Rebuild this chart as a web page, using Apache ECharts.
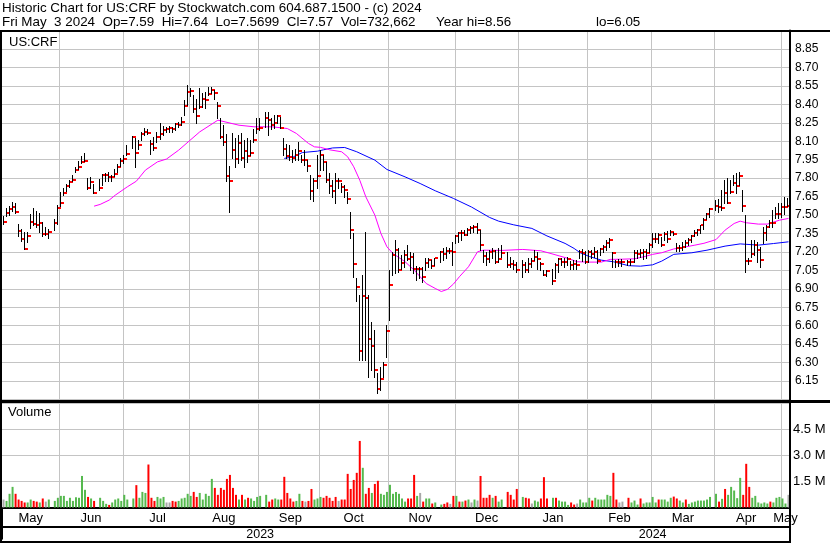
<!DOCTYPE html>
<html><head><meta charset="utf-8">
<script src="https://cdn.jsdelivr.net/npm/echarts@6/dist/echarts.min.js"></script>
<style>html,body{margin:0;padding:0;background:#fff}#c{width:830px;height:543px}</style>
</head><body><div id="c"></div>
<script>
// ---------------- DATA ----------------
const TITLE_LINE1 = 'Historic Chart for US:CRF by Stockwatch.com 604.687.1500 - (c) 2024';
const TITLE_LINE2 = 'Fri May  3 2024  Op=7.59  Hi=7.64  Lo=7.5699  Cl=7.57  Vol=732,662';
const TITLE_YEAR_HI = 'Year hi=8.56';
const TITLE_YEAR_LO = 'lo=6.05';
const SYMBOL = 'US:CRF';
const FIRST_DAY = '2023-05-05';
const LAST_DAY = '2024-05-03';
const HOLIDAYS = ['2023-05-29','2023-06-19','2023-07-04','2023-09-04','2023-11-23','2023-12-25',
                  '2024-01-01','2024-01-15','2024-02-19','2024-03-29'];
const MONTH_NAMES = ['Jan','Feb','Mar','Apr','May','Jun','Jul','Aug','Sep','Oct','Nov','Dec'];

// daily bars, one per trading day: [high, low, close]
const PRICE_BARS = [
 // May 2023
 [7.49,7.43,7.445],[7.56,7.49,7.52],[7.575,7.50,7.55],[7.605,7.53,7.567],[7.60,7.52,7.526],[7.43,7.33,7.37],
 [7.385,7.285,7.306],[7.36,7.22,7.225],[7.36,7.28,7.328],[7.505,7.395,7.445],[7.555,7.415,7.428],[7.53,7.405,7.415],
 [7.52,7.365,7.437],[7.445,7.33,7.342],[7.405,7.335,7.345],[7.385,7.315,7.358],[7.47,7.38,7.434],[7.58,7.43,7.558],
 // Jun
 [7.688,7.575,7.599],[7.716,7.661,7.678],[7.754,7.699,7.735],[7.781,7.727,7.77],[7.824,7.775,7.786],[7.892,7.846,7.867],
 [7.938,7.878,7.892],[7.978,7.919,7.932],[8.003,7.938,7.941],[7.802,7.71,7.721],[7.81,7.716,7.77],[7.756,7.68,7.68],
 [7.792,7.705,7.718],[7.832,7.743,7.824],[7.838,7.775,7.824],[7.851,7.775,7.813],[7.824,7.775,7.808],[7.873,7.819,7.835],
 [7.916,7.851,7.894],[7.96,7.9,7.941],[7.987,7.919,7.957],
 // Jul
 [8.068,7.987,7.997],[8.141,8.046,8.133],[8.122,7.892,8.003],[8.109,8.035,8.068],[8.171,8.109,8.16],[8.209,8.149,8.176],
 [8.203,8.155,8.168],[8.109,7.992,8.079],[8.136,8.027,8.046],[8.176,8.095,8.136],[8.252,8.117,8.155],[8.222,8.149,8.195],
 [8.217,8.176,8.2],[8.225,8.171,8.204],[8.217,8.171,8.2],[8.252,8.19,8.239],[8.258,8.217,8.231],[8.298,8.231,8.26],
 [8.434,8.312,8.39],[8.556,8.393,8.5],
 // Aug
 [8.534,8.469,8.507],[8.474,8.339,8.358],[8.447,8.244,8.306],[8.529,8.366,8.38],[8.488,8.38,8.442],[8.501,8.366,8.434],
 [8.542,8.474,8.48],[8.542,8.488,8.518],[8.515,8.447,8.488],[8.42,8.285,8.388],[8.285,8.122,8.136],[8.231,8.068,8.09],
 [8.16,7.78,7.82],[7.90,7.526,7.775],[8.163,7.96,8.027],[8.122,7.892,7.954],[8.149,7.919,8.084],[8.163,7.946,7.965],
 [8.109,7.892,8.022],[8.122,7.932,7.981],[8.109,7.987,8.005],[8.203,8.095,8.109],[8.285,8.163,8.203],
 // Sep
 [8.29,8.19,8.209],[8.339,8.217,8.29],[8.339,8.149,8.271],[8.285,8.203,8.231],[8.312,8.209,8.249],[8.317,8.244,8.304],
 [8.298,8.209,8.209],[8.122,7.987,8.035],[8.081,7.96,7.981],[8.068,7.946,7.97],[8.027,7.932,7.96],[8.04,7.946,7.99],
 [8.095,7.946,8.019],[7.987,7.932,7.946],[8.027,7.905,7.946],[7.95,7.86,7.90],[7.824,7.634,7.694],[7.797,7.613,7.775],
 [7.987,7.716,7.819],[8.027,7.865,7.987],
 // Oct
 [7.987,7.865,7.93],[7.933,7.77,7.784],[7.838,7.675,7.735],[7.784,7.648,7.697],[7.838,7.6,7.778],[7.797,7.716,7.778],
 [7.762,7.689,7.729],[7.743,7.648,7.702],[7.689,7.6,7.629],[7.526,7.309,7.382],[7.35,6.997,7.1],[6.984,6.802,6.916],
 [6.848,6.32,6.396],[7.011,6.32,6.84],[7.363,6.32,6.827],[6.848,6.184,6.491],[6.632,6.239,6.434],[6.564,6.184,6.239],
 [6.212,6.049,6.087],[6.266,6.076,6.163],[6.307,6.184,6.28],[6.605,6.347,6.556],
 // Nov
 [7.052,6.645,6.93],[7.201,7.011,7.174],[7.296,7.025,7.214],[7.228,7.038,7.052],[7.174,7.065,7.106],[7.214,7.079,7.171],
 [7.255,7.133,7.139],[7.201,7.052,7.155],[7.187,7.025,7.06],[7.084,6.97,7.065],[7.079,6.984,7.065],[7.079,6.957,6.998],
 [7.147,7.052,7.106],[7.147,7.079,7.133],[7.133,7.073,7.084],[7.147,7.092,7.147],[7.209,7.12,7.2],[7.228,7.133,7.182],
 [7.242,7.147,7.209],[7.235,7.19,7.209],[7.282,7.092,7.2],
 // Dec
 [7.336,7.269,7.328],[7.364,7.282,7.35],[7.377,7.296,7.355],[7.382,7.336,7.336],[7.391,7.336,7.382],[7.41,7.35,7.396],
 [7.418,7.363,7.399],[7.437,7.35,7.382],[7.382,7.214,7.26],[7.214,7.12,7.166],[7.201,7.093,7.144],[7.214,7.12,7.201],
 [7.228,7.147,7.209],[7.214,7.106,7.117],[7.228,7.12,7.144],[7.255,7.155,7.193],[7.201,7.079,7.09],[7.16,7.079,7.098],
 [7.133,7.065,7.09],[7.12,7.038,7.052],
 // Jan 2024
 [7.133,6.998,7.093],[7.12,7.038,7.052],[7.147,7.038,7.101],[7.147,7.079,7.125],[7.214,7.133,7.158],[7.201,7.065,7.139],
 [7.12,7.052,7.098],[7.052,7.011,7.014],[7.052,7.003,7.044],[7.057,6.938,6.96],[7.106,6.984,7.093],[7.147,7.038,7.139],
 [7.147,7.093,7.117],[7.147,7.079,7.117],[7.16,7.09,7.139],[7.13,7.06,7.093],[7.133,7.065,7.098],[7.133,7.065,7.093],
 [7.214,7.147,7.201],[7.22,7.13,7.193],[7.21,7.11,7.12],
 // Feb
 [7.214,7.12,7.201],[7.214,7.147,7.182],[7.242,7.16,7.201],[7.214,7.106,7.125],[7.228,7.174,7.22],[7.255,7.201,7.236],
 [7.296,7.214,7.274],[7.309,7.242,7.296],[7.201,7.079,7.187],[7.133,7.079,7.117],[7.14,7.085,7.117],[7.14,7.085,7.117],
 [7.135,7.09,7.12],[7.14,7.09,7.117],[7.214,7.12,7.193],[7.214,7.147,7.182],[7.22,7.16,7.193],[7.225,7.14,7.201],
 [7.22,7.15,7.193],[7.269,7.201,7.255],
 // Mar
 [7.35,7.241,7.301],[7.355,7.282,7.301],[7.355,7.269,7.334],[7.323,7.247,7.255],[7.363,7.296,7.344],[7.369,7.282,7.301],
 [7.377,7.336,7.358],[7.363,7.336,7.344],[7.269,7.209,7.228],[7.255,7.209,7.228],[7.282,7.214,7.236],[7.296,7.236,7.274],
 [7.315,7.255,7.296],[7.336,7.282,7.328],[7.377,7.328,7.355],[7.39,7.336,7.382],[7.418,7.355,7.415],[7.472,7.39,7.458],
 [7.518,7.464,7.512],[7.553,7.485,7.545],
 // Apr
 [7.626,7.539,7.572],[7.634,7.526,7.567],[7.702,7.539,7.553],[7.783,7.594,7.68],[7.797,7.594,7.594],[7.783,7.675,7.683],
 [7.824,7.743,7.762],[7.838,7.675,7.735],[7.851,7.743,7.819],[7.70,7.53,7.575],[7.50,7.04,7.125],[7.147,7.10,7.125],
 [7.296,7.16,7.18],[7.296,7.174,7.255],[7.282,7.12,7.214],[7.241,7.079,7.133],[7.404,7.269,7.355],[7.418,7.296,7.404],
 [7.458,7.404,7.431],[7.539,7.404,7.431],[7.566,7.472,7.512],[7.594,7.472,7.512],
 // May 2024
 [7.594,7.485,7.567],[7.648,7.512,7.567],[7.64,7.5699,7.57]
];

// daily volume in millions of shares, one per trading day
const VOLUME_M = [
 0.46,0.38,0.79,1.19,0.79,0.46,0.38,0.29,0.29,0.46,0.38,0.34,0.29,0.52,0.34,0.46,0.38,0.56,
 0.67,0.67,0.38,0.56,0.38,0.59,0.56,1.82,1.02,0.61,0.52,0.38,0.56,0.38,0.21,0.15,0.29,0.46,0.52,0.38,0.73,
 0.46,0.52,1.29,0.56,0.90,0.84,2.48,0.56,0.38,0.61,0.52,0.61,0.29,0.29,0.38,0.34,0.38,0.52,0.56,0.79,
 0.67,0.90,0.61,0.84,0.46,0.79,0.67,1.65,1.13,0.73,1.13,1.02,1.65,1.88,1.13,0.73,0.46,0.73,0.46,0.56,0.52,0.38,0.61,
 0.67,0.73,0.34,0.46,0.52,0.46,0.46,1.77,0.84,0.52,0.34,0.38,0.79,0.38,0.34,0.38,1.07,0.46,0.52,0.61,
 0.56,0.67,0.56,0.38,0.61,0.38,0.46,0.46,1.94,1.07,1.59,2.00,3.84,2.29,0.79,1.13,0.84,1.36,1.54,0.79,0.73,0.90,
 1.31,0.79,0.90,0.79,0.52,0.34,0.52,0.52,1.88,0.67,0.84,0.34,0.52,0.52,0.23,0.29,0.17,0.21,0.29,0.21,0.67,
 0.67,0.34,0.34,0.40,0.46,0.29,0.46,0.40,1.82,0.56,0.56,0.73,0.56,0.67,0.34,0.46,0.90,0.73,0.46,1.07,
 0.61,0.56,0.52,0.23,0.40,0.34,0.52,1.75,0.52,0.56,0.56,0.40,0.34,0.34,0.15,0.29,0.17,0.23,0.46,0.29,0.29,
 0.56,0.40,0.56,0.46,0.46,0.46,0.73,0.67,2.00,0.46,0.29,0.34,0.56,0.29,0.40,0.17,0.52,0.23,0.29,0.29,
 0.61,0.29,0.46,0.46,0.46,0.34,0.56,0.63,0.52,0.40,0.29,0.46,0.21,0.29,0.34,0.40,0.40,0.40,0.46,0.61,
 0.79,0.34,0.50,1.07,0.73,1.19,0.98,0.54,1.71,0.73,2.52,1.19,0.56,0.67,0.29,0.23,0.29,0.23,0.34,0.29,0.56,0.61,
 0.52,0.23,0.73
];
// day direction for volume colouring: u = up, d = down, n = unchanged
const VOLUME_DIR =
 'nuuudddduuddudnuuu' + 'uuuuuuuuududuuuduuuuu' + 'uuduuudddu' + 'uunndduuuu' +
 'udduuuuudd' + 'ddddddudud' + 'uuu' + 'uudduudddd' + 'duudndduuu' +
 'dddddndddd' + 'dddudduddu' + 'uu' + 'uuuuuudddu' + 'nduuduuddn' + 'd' +
 'ududunundd' + 'dduduudddd' + 'uddnuudddu' + 'duuuuddnuu' + 'u' +
 'uduuuuuudd' + 'nnduuuduuu' + 'uuduuuuddu' + 'uduuuuuuuu' +
 'ududuuuuud' + 'dduuuuuudu' + 'uu' + 'uun';

// moving averages: [date, value]
const MA_SHORT = [
 ['2023-06-16',7.572],['2023-06-20',7.586],['2023-06-23',7.621],['2023-06-27',7.661],['2023-07-03',7.729],
 ['2023-07-06',7.775],['2023-07-11',7.865],['2023-07-17',7.932],['2023-07-20',7.955],['2023-07-26',8.027],
 ['2023-08-04',8.176],['2023-08-14',8.271],['2023-08-23',8.23],['2023-08-30',8.217],['2023-09-07',8.217],
 ['2023-09-14',8.203],['2023-09-19',8.163],['2023-09-25',8.082],['2023-09-27',8.054],['2023-09-29',8.05],
 ['2023-10-04',8.03],['2023-10-10',8.014],['2023-10-12',7.973],['2023-10-16',7.892],['2023-10-18',7.783],
 ['2023-10-20',7.648],['2023-10-25',7.499],['2023-10-27',7.35],['2023-10-31',7.241],['2023-11-02',7.187],
 ['2023-11-08',7.12],['2023-11-13',7.052],['2023-11-15',6.998],['2023-11-17',6.943],['2023-11-22',6.903],
 ['2023-11-24',6.878],['2023-11-28',6.895],['2023-11-30',6.938],['2023-12-04',6.998],['2023-12-07',7.079],
 ['2023-12-11',7.16],['2023-12-12',7.201],['2023-12-14',7.214],['2023-12-22',7.212],['2024-01-02',7.22],
 ['2024-01-10',7.209],['2024-01-16',7.182],['2024-01-23',7.147],['2024-01-26',7.12],['2024-02-01',7.117],
 ['2024-02-07',7.117],['2024-02-12',7.139],['2024-02-16',7.141],['2024-02-22',7.144],['2024-02-27',7.16],
 ['2024-03-01',7.18],['2024-03-06',7.193],['2024-03-12',7.224],['2024-03-18',7.241],['2024-03-21',7.255],
 ['2024-03-26',7.27],['2024-04-01',7.30],['2024-04-04',7.377],['2024-04-09',7.431],['2024-04-11',7.45],
 ['2024-04-15',7.437],['2024-04-19',7.426],['2024-04-24',7.426],['2024-04-26',7.442],['2024-04-30',7.458],
 ['2024-05-03',7.472]
];
const MA_LONG = [
 ['2023-09-13',7.96],['2023-09-18',7.973],['2023-09-21',8.008],['2023-09-28',8.019],['2023-10-02',8.03],
 ['2023-10-05',8.045],['2023-10-11',8.049],['2023-10-17',8.014],['2023-10-25',7.946],['2023-10-31',7.87],
 ['2023-11-08',7.81],['2023-11-15',7.756],['2023-11-22',7.697],['2023-11-30',7.635],['2023-12-08',7.565],
 ['2023-12-18',7.48],['2023-12-21',7.45],['2023-12-28',7.42],['2024-01-05',7.391],['2024-01-12',7.33],
 ['2024-01-22',7.269],['2024-01-25',7.228],['2024-01-29',7.193],['2024-02-01',7.163],['2024-02-07',7.133],
 ['2024-02-13',7.12],['2024-02-20',7.088],['2024-02-26',7.084],['2024-03-01',7.095],['2024-03-06',7.125],
 ['2024-03-12',7.18],['2024-03-20',7.193],['2024-03-27',7.214],['2024-04-04',7.247],['2024-04-11',7.265],
 ['2024-04-19',7.255],['2024-04-26',7.268],['2024-05-03',7.282]
];

// ---------------- LAYOUT / STYLE ----------------
const FONT = "'Liberation Sans', Arial, sans-serif";
const GRID_COLOR = '#c4c4c4';
const DIR_COLOR = { u: '#55b94e', d: '#ff0000', n: '#a8a8a8' };

function ymd(d) { return d.toISOString().slice(0, 10); }
const days = [];
for (let d = new Date(FIRST_DAY + 'T00:00:00Z'); ymd(d) <= LAST_DAY; d.setUTCDate(d.getUTCDate() + 1)) {
  const wd = d.getUTCDay();
  if (wd !== 0 && wd !== 6) days.push(ymd(d));
}
const dayIndex = new Map(days.map((d, i) => [d, i]));
const tradingIdx = days.map((d, i) => i).filter(i => !HOLIDAYS.includes(days[i]));

const priceData = tradingIdx.map((slot, k) => [slot, PRICE_BARS[k][0], PRICE_BARS[k][1], PRICE_BARS[k][2]]);
const volData = days.map(() => null);
tradingIdx.forEach((slot, k) => {
  volData[slot] = { value: VOLUME_M[k], itemStyle: { color: DIR_COLOR[VOLUME_DIR[k]] } };
});
const maShort = MA_SHORT.filter(p => dayIndex.has(p[0])).map(p => [dayIndex.get(p[0]), p[1]]);
const maLong = MA_LONG.filter(p => dayIndex.has(p[0])).map(p => [dayIndex.get(p[0]), p[1]]);

const monthLine = days.map((d, i) => {
  if (i === 0) return false;
  if (d.slice(8) === '01') return true;
  const nx = days[i + 1];
  return !!nx && nx.slice(0, 7) !== d.slice(0, 7) && nx.slice(8) !== '01';
});
function midSlots(keyLen) {
  const set = new Set(); let start = 0;
  for (let i = 1; i <= days.length; i++) {
    if (i === days.length || days[i].slice(0, keyLen) !== days[start].slice(0, keyLen)) {
      set.add(Math.floor((start + i - 1) / 2)); start = i;
    }
  }
  return set;
}
const monthMid = midSlots(7), yearMid = midSlots(4);
const yearStart = days.findIndex(d => d.slice(0, 4) !== days[0].slice(0, 4));

const chart = echarts.init(document.getElementById('c'), null, { renderer: 'canvas' });
const txt = (size) => ({ fontFamily: FONT, fontSize: size, color: '#000', fontWeight: 'normal' });

chart.setOption({
  animation: false,
  backgroundColor: '#fff',
  title: [
    { text: TITLE_LINE1, left: 2, top: 2, padding: 0, textStyle: txt(13.4) },
    { text: TITLE_LINE2, left: 2, top: 16, padding: 0, textStyle: txt(13.4) },
    { text: TITLE_YEAR_HI, left: 436, top: 16, padding: 0, textStyle: txt(13.4) },
    { text: TITLE_YEAR_LO, left: 596, top: 16, padding: 0, textStyle: txt(13.4) },
    { text: SYMBOL, left: 9, top: 36, padding: 0, textStyle: txt(13) },
    { text: 'Volume', left: 8, top: 406, padding: 0, textStyle: txt(13) }
  ],
  grid: [
    { left: 2, right: 40, top: 30.5, height: 369 },
    { left: 2, right: 40, top: 403.5, height: 104 }
  ],
  xAxis: [
    { gridIndex: 0, type: 'category', data: days, boundaryGap: true,
      axisLine: { show: false }, axisTick: { show: false }, axisLabel: { show: false },
      splitLine: { show: true, interval: (i) => monthLine[i], lineStyle: { color: GRID_COLOR, width: 1 } } },
    { gridIndex: 1, type: 'category', data: days, boundaryGap: true, position: 'bottom', offset: 2,
      axisLine: { lineStyle: { color: '#000', width: 2 } },
      axisTick: { show: true, interval: (i) => i === yearStart, length: 32, lineStyle: { color: '#000', width: 2 } },
      axisLabel: { interval: (i) => monthMid.has(i), formatter: (v) => MONTH_NAMES[+v.slice(5, 7) - 1],
        margin: 2, ...txt(13) },
      splitLine: { show: true, interval: (i) => monthLine[i], lineStyle: { color: GRID_COLOR, width: 1 } } },
    { gridIndex: 1, type: 'category', data: days, boundaryGap: true, position: 'bottom', offset: 19,
      axisLine: { lineStyle: { color: '#000', width: 2 } }, axisTick: { show: false },
      axisLabel: { interval: (i) => yearMid.has(i), formatter: (v) => v.slice(0, 4), margin: 2, ...txt(12.5) },
      splitLine: { show: false } },
    { gridIndex: 1, type: 'category', data: days, boundaryGap: true, position: 'bottom', offset: 34,
      axisLine: { lineStyle: { color: '#000', width: 2 } }, axisTick: { show: false },
      axisLabel: { show: false }, splitLine: { show: false } }
  ],
  yAxis: [
    { gridIndex: 0, type: 'value', position: 'right', min: 6.0, max: 9.0, interval: 0.15,
      axisLine: { show: true, lineStyle: { color: '#000', width: 2 } }, axisTick: { show: false },
      axisLabel: { formatter: (v) => v.toFixed(2), showMinLabel: false, showMaxLabel: false, margin: 5, ...txt(12) },
      splitLine: { show: true, lineStyle: { color: GRID_COLOR, width: 1 } } },
    { gridIndex: 1, type: 'value', position: 'right', min: 0, max: 6, interval: 1.5,
      axisLine: { show: true, lineStyle: { color: '#000', width: 2 } }, axisTick: { show: false },
      axisLabel: { formatter: (v) => v.toFixed(1) + ' M', showMinLabel: false, showMaxLabel: false, margin: 3, ...txt(13) },
      splitLine: { show: true, lineStyle: { color: GRID_COLOR, width: 1 } } }
  ],
  series: [
    { type: 'bar', xAxisIndex: 1, yAxisIndex: 1, data: volData, barWidth: 2, silent: true },
    { type: 'line', xAxisIndex: 0, yAxisIndex: 0, data: maLong, symbol: 'none', silent: true,
      lineStyle: { color: '#0000ff', width: 1 }, z: 3 },
    { type: 'line', xAxisIndex: 0, yAxisIndex: 0, data: maShort, symbol: 'none', silent: true,
      lineStyle: { color: '#ff00ff', width: 1 }, z: 3 },
    { type: 'custom', xAxisIndex: 0, yAxisIndex: 0, data: priceData, silent: true, z: 4,
      encode: { x: 0, y: [1, 2, 3] },
      renderItem: (params, api) => {
        const slot = api.value(0);
        const hi = api.coord([slot, api.value(1)]);
        const lo = api.coord([slot, api.value(2)]);
        const cl = api.coord([slot, api.value(3)]);
        const px = Math.round(hi[0]);
        return { type: 'group', children: [
          { type: 'line', shape: { x1: px - 0.5, y1: Math.round(hi[1]), x2: px - 0.5, y2: Math.round(lo[1]) + 1 },
            style: { stroke: '#000', lineWidth: 1 } },
          { type: 'rect', shape: { x: px, y: Math.round(cl[1]) - 1, width: 3, height: 2 },
            style: { fill: '#ff0000' } }
        ] };
      } }
  ],
  graphic: [
    { type: 'line', shape: { x1: 0, y1: 31, x2: 830, y2: 31 }, style: { stroke: '#000', lineWidth: 2 }, z: 100 },
    { type: 'line', shape: { x1: 0, y1: 401.5, x2: 830, y2: 401.5 }, style: { stroke: '#000', lineWidth: 3 }, z: 100 },
    { type: 'line', shape: { x1: 1, y1: 30, x2: 1, y2: 543 }, style: { stroke: '#000', lineWidth: 2 }, z: 100 },
    { type: 'line', shape: { x1: 790, y1: 30, x2: 790, y2: 543 }, style: { stroke: '#000', lineWidth: 2 }, z: 100 }
  ]
});
</script></body></html>
